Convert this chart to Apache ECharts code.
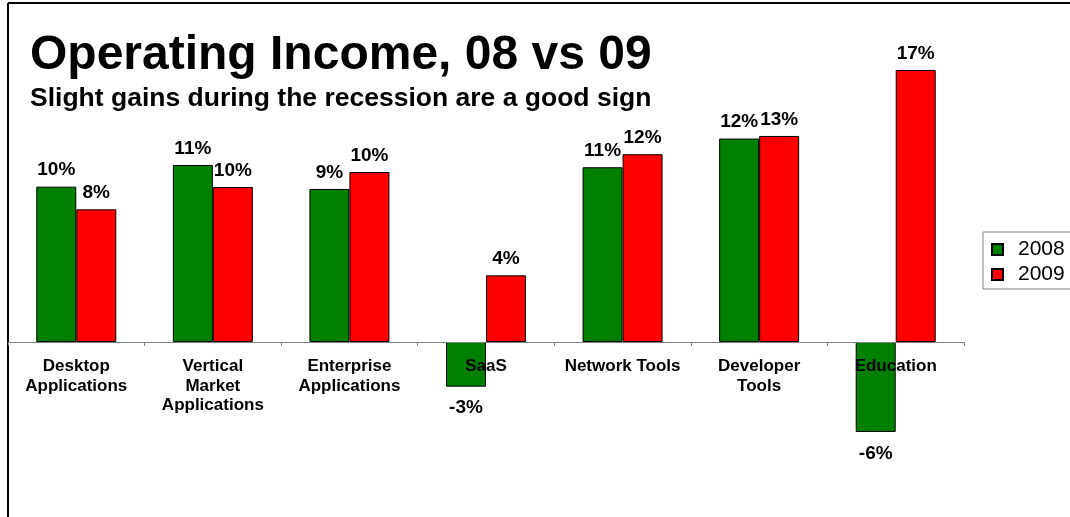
<!DOCTYPE html>
<html>
<head>
<meta charset="utf-8">
<script src="https://cdn.jsdelivr.net/npm/echarts@6/dist/echarts.min.js"></script>
<style>
html,body{margin:0;padding:0;background:#fff;}
#chart{width:1070px;height:517px;}
</style>
</head>
<body>
<div id="chart"></div>
<script>
var categories = ['Desktop\nApplications', 'Vertical\nMarket\nApplications', 'Enterprise\nApplications', 'SaaS', 'Network Tools', 'Developer\nTools', 'Education'];
var values2008 = [9.53, 10.86, 9.39, -2.74, 10.72, 12.48, -5.52];
var values2009 = [8.14, 9.51, 10.43, 4.09, 11.52, 12.64, 16.69];
var seriesNames = ['2008', '2009'];
var titleText = 'Operating Income, 08 vs 09';
var subtitleText = 'Slight gains during the recession are a good sign';

var FONT = '"Liberation Sans", Arial, sans-serif';
var Y_MIN = -10, Y_MAX = 20;

function buildData(vals) {
  return vals.map(function (v) {
    return {
      value: v,
      label: v < 0 ? { position: 'bottom', distance: 12 } : { position: 'top', distance: 7 }
    };
  });
}

var labelCfg = {
  show: true,
  fontFamily: FONT,
  fontWeight: 'bold',
  fontSize: 19,
  color: '#000',
  formatter: function (p) { return Math.round(p.value) + '%'; }
};

var gridTop = 16, gridBottom = 12, H = 517;
var plotH = H - gridTop - gridBottom;
var zeroOffset = plotH * (0 - Y_MIN) / (Y_MAX - Y_MIN);

var chart = echarts.init(document.getElementById('chart'), null, { renderer: 'canvas' });
chart.setOption({
  animation: false,
  backgroundColor: '#fff',
  title: {
    text: titleText,
    subtext: subtitleText,
    left: 25,
    top: 27,
    itemGap: 5,
    textStyle: { fontFamily: FONT, fontWeight: 'bold', fontSize: 48, color: '#000' },
    subtextStyle: { fontFamily: FONT, fontWeight: 'bold', fontSize: 26.5, color: '#000' }
  },
  legend: {
    orient: 'vertical',
    left: 983,
    top: 232,
    icon: 'rect',
    itemWidth: 11,
    itemHeight: 11,
    itemGap: 4,
    padding: [7, 20, 4, 8],
    borderColor: '#808080',
    borderWidth: 1,
    textStyle: { fontFamily: FONT, fontSize: 21, color: '#000', padding: [0, 0, 0, 10] },
    data: seriesNames
  },
  grid: { left: 8, right: 106, top: gridTop, bottom: gridBottom, containLabel: false, outerBoundsMode: 'none' },
  xAxis: {
    type: 'category',
    data: categories,
    z: 10,
    offset: -zeroOffset,
    axisLine: { onZero: false, lineStyle: { color: '#808080', width: 1 } },
    axisTick: { show: true, length: 4, lineStyle: { color: '#808080' } },
    axisLabel: {
      interval: 0,
      margin: 15,
      fontFamily: FONT,
      fontWeight: 'bold',
      fontSize: 17,
      lineHeight: 19.5,
      color: '#000'
    },
    splitLine: { show: false }
  },
  yAxis: {
    type: 'value',
    min: Y_MIN,
    max: Y_MAX,
    interval: 5,
    show: false,
    splitLine: { show: false }
  },
  series: [
    {
      name: seriesNames[0],
      type: 'bar',
      barWidth: 40,
      barGap: '0%',
      itemStyle: { color: '#008000', borderColor: '#000', borderWidth: 1 },
      label: labelCfg,
      data: buildData(values2008)
    },
    {
      name: seriesNames[1],
      type: 'bar',
      barWidth: 40,
      barGap: '0%',
      itemStyle: { color: '#ff0000', borderColor: '#000', borderWidth: 1 },
      label: labelCfg,
      data: buildData(values2009)
    }
  ],
  graphic: [
    { type: 'line', silent: true, shape: { x1: 8, y1: 3, x2: 1070, y2: 3 }, style: { stroke: '#000', lineWidth: 2 } },
    { type: 'line', silent: true, shape: { x1: 8, y1: 3, x2: 8, y2: 517 }, style: { stroke: '#000', lineWidth: 2 } }
  ]
});
</script>
</body>
</html>
